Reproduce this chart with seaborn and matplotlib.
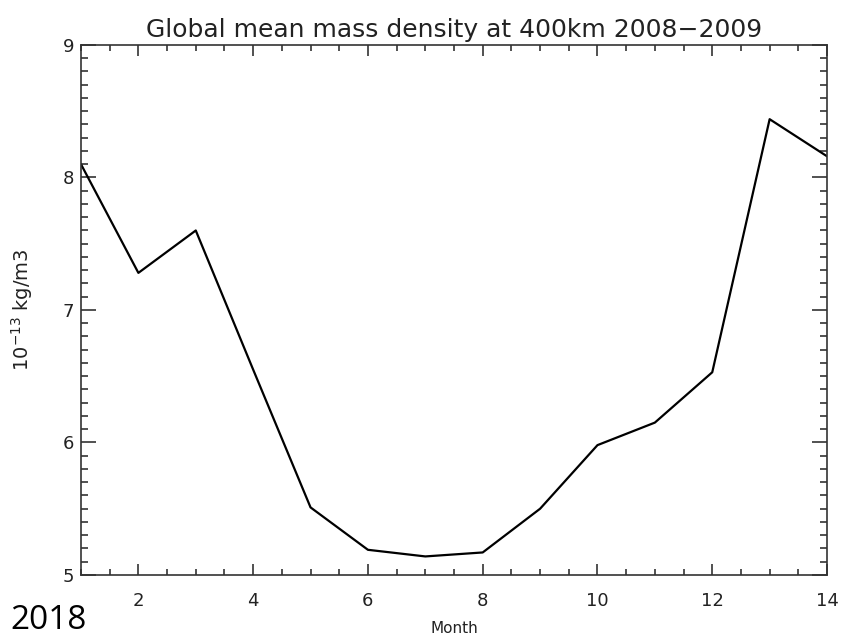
import matplotlib
matplotlib.use("Agg")
import matplotlib.pyplot as plt
from matplotlib.ticker import MultipleLocator
import seaborn as sns
import pandas as pd

months = [1, 2, 3, 4, 5, 6, 7, 8, 9, 10, 11, 12, 13, 14]
density = [8.10, 7.28, 7.60, 6.55, 5.51, 5.19, 5.14, 5.17, 5.50, 5.98, 6.15, 6.53, 8.44, 8.16]
xticks = [2, 4, 6, 8, 10, 12, 14]
yticks = [5, 6, 7, 8, 9]

sns.set_style("ticks")
plt.rcParams['font.family'] = ['DejaVu Sans']

df = pd.DataFrame({"Month": months, "Density": density})

fig = plt.figure(figsize=(8.58, 6.4), dpi=100)
ax = fig.add_axes([0.0944, 0.1016, 0.8695, 0.8281])
sns.lineplot(data=df, x="Month", y="Density", ax=ax, color="black", linewidth=1.6)

ax.set_xlim(1, 14)
ax.set_ylim(5, 9)
ax.set_xticks(xticks)
ax.set_yticks(yticks)
ax.xaxis.set_minor_locator(MultipleLocator(0.5))
ax.yaxis.set_minor_locator(MultipleLocator(0.1))
ax.tick_params(axis='both', which='both', direction='in', top=True, right=True,
               color='#333333', width=1.2, labelsize=13, labelcolor='#222222')
ax.tick_params(axis='x', which='major', length=8, pad=12)
ax.tick_params(axis='x', which='minor', length=4)
ax.tick_params(axis='y', which='major', length=11, pad=5)
ax.tick_params(axis='y', which='minor', length=5)
for s in ax.spines.values():
    s.set_color('#333333')
    s.set_linewidth(1.2)

ax.set_xlabel("Month", fontsize=11, color='#222222', labelpad=8)
ax.set_ylabel("10$^{-13}$ kg/m3", fontsize=14, color='#222222', labelpad=20)
ax.set_title("Global mean mass density at 400km 2008\u22122009", fontsize=18,
             color='#222222', pad=6)

fig.text(0.012, 0.004, "2018", fontsize=24, family=['Open Sans', 'DejaVu Sans'],
         ha='left', va='bottom', color='black')

fig.savefig("out.png", dpi=100)
